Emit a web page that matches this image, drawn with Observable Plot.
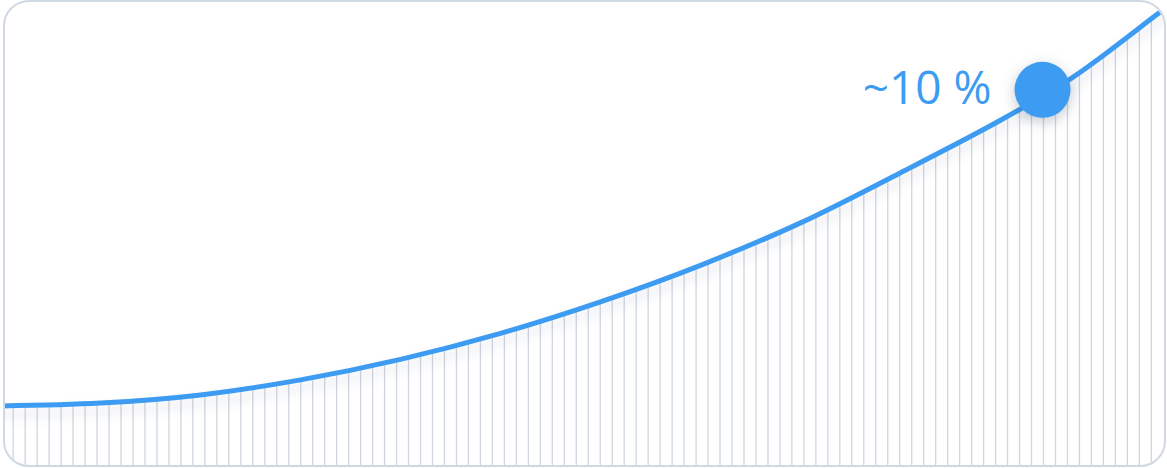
<!DOCTYPE html>
<html>
<head>
<meta charset="utf-8">
<script src="https://cdn.jsdelivr.net/npm/d3@7"></script>
<script src="https://cdn.jsdelivr.net/npm/@observablehq/plot@0.6"></script>
<style>
  html, body { margin: 0; padding: 0; background: #ffffff; }
  #wrap { position: relative; width: 1167px; height: 468px; overflow: hidden; }
  #chart svg { position: absolute; left: 0; top: 0; clip-path: inset(2px 3px 3px 5px round 24px); }
  #card { position: absolute; left: 3px; top: 0px; width: 1159px; height: 463px; border: 2px solid #d0d8e3; border-radius: 26px; pointer-events: none; }
  .curve-line { filter: drop-shadow(0px 8px 6px rgba(40, 60, 90, 0.12)); }
  .marker-dot { filter: drop-shadow(0px 4px 7px rgba(40, 60, 90, 0.28)); }
</style>
</head>
<body>
<div id="wrap">
  <div id="chart"></div>
  <div id="card"></div>
</div>
<script>
// Curve: period index (x) and rate in % (y)
const periods = [0, 8.29, 16.64, 24.98, 33.33, 41.68, 50.02, 58.37, 66.72, 75.07, 83.41, 89.26, 91.76, 96.35, 97.3];
const rates   = [1.60, 1.676, 1.894, 2.294, 2.840, 3.532, 4.371, 5.344, 6.476, 7.813, 9.209, 10.314, 10.882, 12.000, 12.227];

// Vertical grid ticks (one per period)
const gridTicks = d3.range(1, 97);

// Highlighted marker
const markerPeriod = [86.92];
const markerRate = [10.02];
const markerLabel = ["~10 %"];

const yTop = 12.4;
const blue = "#3d9cf2";

const curveData = periods.map((p, i) => ({p, r: rates[i]}));
const marker = markerPeriod.map((p, i) => ({p, r: markerRate[i], label: markerLabel[i]}));

const chart = Plot.plot({
  width: 1167,
  height: 468,
  marginTop: 0, marginRight: 0, marginBottom: 0, marginLeft: 0,
  x: {domain: [0, 97.3], range: [0.7, 1166.4], axis: null},
  y: {domain: [0, yTop], range: [465.5, 0], axis: null},
  style: {background: "transparent", overflow: "visible"},
  marks: [
    Plot.ruleX(gridTicks, {x: d => d, y1: 0, y2: yTop, stroke: "#cfd6e0", strokeWidth: 1.3}),
    Plot.areaY(curveData, {x: "p", y1: "r", y2: yTop, fill: "white", curve: "catmull-rom"}),
    Plot.line(curveData, {x: "p", y: "r", stroke: blue, strokeWidth: 5, curve: "catmull-rom", className: "curve-line"}),
    Plot.dot(marker, {x: "p", y: "r", r: 28, fill: blue, stroke: "none", className: "marker-dot"}),
    Plot.text(marker, {x: "p", y: "r", text: "label", textAnchor: "end", dx: -51, dy: -1, fill: blue, fontSize: 46, fontFamily: "Open Sans", lineAnchor: "middle"})
  ]
});
document.getElementById("chart").appendChild(chart);
</script>
</body>
</html>
